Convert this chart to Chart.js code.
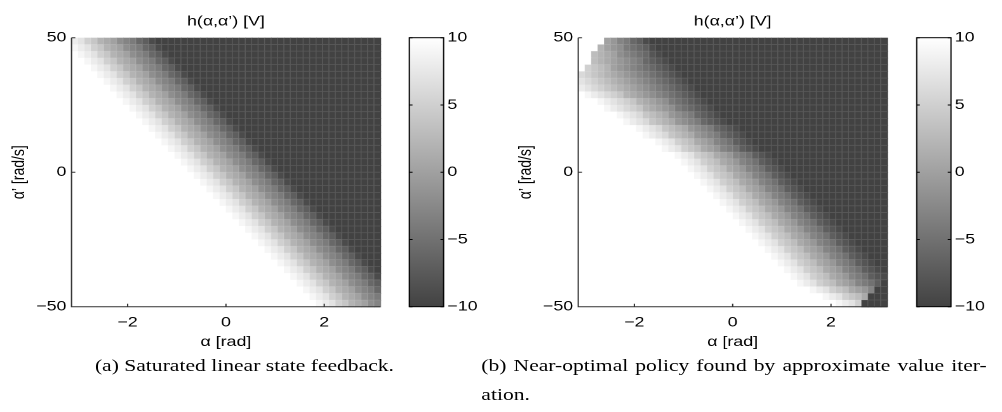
<!DOCTYPE html>
<html>
<head>
<meta charset="utf-8">
<script src="https://cdn.jsdelivr.net/npm/chart.js@4.4.1/dist/chart.umd.min.js"></script>
<style>
  html, body { margin: 0; padding: 0; background: #fff; }
  body { width: 1002px; height: 412px; overflow: hidden; position: relative; }
  /* the reference figure is stretched horizontally, so the whole page is too */
  #page { position: absolute; left: 0; top: 0; width: 789px; height: 412px; transform: scaleX(1.27); transform-origin: 0 0; }
  canvas { position: absolute; }
  .cap { position: absolute; font-family: "Liberation Serif", "Times New Roman", serif; font-size: 17px; line-height: 29px; color: #000; white-space: nowrap; }
</style>
</head>
<body>
<div id="page">
  <canvas id="heatA" width="305" height="360" style="left:0px;top:0px"></canvas>
  <canvas id="barA" width="80" height="330" style="left:310px;top:0px"></canvas>
  <canvas id="heatB" width="305" height="360" style="left:399px;top:0px"></canvas>
  <canvas id="barB" width="80" height="330" style="left:710px;top:0px"></canvas>
  <div class="cap" style="left:0px;top:351px;width:385px;text-align:center">(a) Saturated linear state feedback.</div>
  <div class="cap" style="left:379px;top:351px;width:398px;white-space:normal;text-align:justify;text-align-last:justify">(b) Near-optimal policy found by approximate value iter-</div>
  <div class="cap" style="left:379px;top:380px">ation.</div>
</div>
<script>
// ------------------------------------------
// data
// ------------------------------------------
const alphaRange = [-Math.PI, Math.PI];   // α [rad]
const omegaRange = [-50, 50];             // α' [rad/s]
const alphaTicks = [-2, 0, 2];
const omegaTicks = [-50, 0, 50];
const hTicks = [-10, -5, 0, 5, 10];
const hRange = [-10, 10];

// one letter per cell, a = -10 V ... k = 0 V ... u = +10 V
// "12u" means twelve cells of u; rows go from α' = 50 (top) down to -50
const levelKeys = "abcdefghijklmnopqrstu";

// (a) saturated linear state feedback
const rowsA = [
  "srpomlkihgedb35a",
  "tsrpomlkihgedb34a",
  "utsrpomlkihgedb33a",
  "2utsrpomlkihgedb32a",
  "3utsrpomlkihgedb31a",
  "4utsrpomlkihgedb30a",
  "5utsrpomlkihgedb29a",
  "6utsrpomlkihgedb28a",
  "7utsrpomlkihgedb27a",
  "8utsrpomlkihgedb26a",
  "9utsrpomlkihgedb25a",
  "10utsrpomlkihgedb24a",
  "11utsrpomlkihgedb23a",
  "12utsrpomlkihgedb22a",
  "13utsrpomlkihgedb21a",
  "14utsrpomlkihgedb20a",
  "15utsrpomlkihgedb19a",
  "16utsrpomlkihgedb18a",
  "17utsrpomlkihgedb17a",
  "18utsrpomlkihgedb16a",
  "19utsrpomlkihgedb15a",
  "20utsrpomlkihgedb14a",
  "21utsrpomlkihgedb13a",
  "22utsrpomlkihgedb12a",
  "23utsrpomlkihgedb11a",
  "24utsrpomlkihgedb10a",
  "25utsrpomlkihgedb9a",
  "26utsrpomlkihgedb8a",
  "27utsrpomlkihgedb7a",
  "28utsrpomlkihgedb6a",
  "29utsrpomlkihgedb5a",
  "30utsrpomlkihgedb4a",
  "31utsrpomlkihgedb3a",
  "32utsrpomlkihgedb2a",
  "33utsrpomlkihgedba",
  "34utsrpomlkihgedb",
  "35utsrpomlkihged",
  "36utsrpomlkihge",
  "37utsrpomlkihg",
  "38utsrpomlkih"
];

// (b) near-optimal policy from approximate value iteration
const rowsB = [
  "4ukjhgedb37a",
  "3umkjigfedb36a",
  "2unmlkihgfecb35a",
  "2unmlkjihgedcb34a",
  "uponmkjihgfedcb33a",
  "qponmlkjihgfedcb32a",
  "rqponmlkjihgfedcb31a",
  "srqponmlkjihgfedcb30a",
  "utsrqpomlkjihgfedcb29a",
  "3utsrqpomlkjigfedcb28a",
  "4utsrqpomlkjigfedcb27a",
  "6utsrqonmljihgedcb26a",
  "7utsrqonmljihgedcb25a",
  "9utsrqonmljihgedcb23a",
  "10utsrqonmljihgedcb22a",
  "12utsrponlkjhgfdcb21a",
  "13utsrponlkjhgfdcb20a",
  "15utsrponlkjhgfdcb18a",
  "16utsrponlkjhgfdcb17a",
  "17utsrponlkjhgfdcb16a",
  "18utsrponlkjhgfdcb15a",
  "19utsrponlkjhgfdcb14a",
  "20utsrponlkjhgfdcb13a",
  "21utsrponlkjhgfdcb12a",
  "22utsrponlkjhgfdcb11a",
  "23utsrponlkjhgfdcb10a",
  "24utsrponlkjhgfdcb9a",
  "25utsrponlkjhgfdcb8a",
  "26utsrponlkjhgfdcb7a",
  "27utsrponlkjhgfdcb6a",
  "28utsrponlkjhgfdcb5a",
  "29utsrponlkjhgfdcb4a",
  "30utsrponlkjhgfdcb3a",
  "31utsrponlkjhgfdcb2a",
  "32utsrponlkjhgfdcba",
  "33utsrponlkjhgfdcb",
  "34utsrponlkjhgfda",
  "36utsrponlkjh2a",
  "38utsrponl3a",
  "40utsrp4a"
];

// ------------------------------------------
// helpers
// ------------------------------------------
const FONT = "'Liberation Sans', Arial, Helvetica, sans-serif";
const DARK = 66; // grey level of -10 V

function decodeRows(rows) {
  return rows.map(r => {
    const out = [];
    r.replace(/(\d*)([a-u])/g, (m, n, c) => {
      const cnt = n ? parseInt(n, 10) : 1;
      for (let k = 0; k < cnt; k++) out.push(levelKeys.indexOf(c) - 10);
      return m;
    });
    return out;
  });
}

function grey(v) {
  const t = (Math.max(hRange[0], Math.min(hRange[1], v)) - hRange[0]) / (hRange[1] - hRange[0]);
  const g = Math.round(DARK + t * (255 - DARK));
  return `rgb(${g},${g},${g})`;
}

function fmt(v) {
  return v < 0 ? "\u2212" + Math.abs(v) : String(v);
}

function heatPlugin(grid) {
  return {
    id: "heat",
    beforeDatasetsDraw(chart) {
      const { ctx, scales: { x, y } } = chart;
      const ny = grid.length, nx = grid[0].length;
      const dx = (alphaRange[1] - alphaRange[0]) / nx;
      const dy = (omegaRange[1] - omegaRange[0]) / ny;
      ctx.save();
      for (let i = 0; i < ny; i++) {
        const yt = y.getPixelForValue(omegaRange[1] - i * dy);
        const yb = y.getPixelForValue(omegaRange[1] - (i + 1) * dy);
        for (let j = 0; j < nx; j++) {
          const xl = x.getPixelForValue(alphaRange[0] + j * dx);
          const xr = x.getPixelForValue(alphaRange[0] + (j + 1) * dx);
          ctx.fillStyle = grey(grid[i][j]);
          ctx.fillRect(xl, yt, xr - xl + 0.6, yb - yt + 0.6);
        }
      }
      // faint mesh, the printed figure shows the cell edges
      ctx.strokeStyle = "rgba(255,255,255,0.13)";
      ctx.lineWidth = 0.8;
      ctx.beginPath();
      for (let i = 1; i < ny; i++) {
        const py = y.getPixelForValue(omegaRange[1] - i * dy);
        ctx.moveTo(chart.chartArea.left, py); ctx.lineTo(chart.chartArea.right, py);
      }
      for (let j = 1; j < nx; j++) {
        const px = x.getPixelForValue(alphaRange[0] + j * dx);
        ctx.moveTo(px, chart.chartArea.top); ctx.lineTo(px, chart.chartArea.bottom);
      }
      ctx.stroke();
      ctx.restore();
    },
    afterDraw(chart) {
      const { ctx, chartArea: a, scales: { x, y } } = chart;
      ctx.save();
      ctx.strokeStyle = "#333";
      ctx.lineWidth = 1;
      ctx.beginPath();
      ctx.moveTo(a.left, a.top);
      ctx.lineTo(a.left, a.bottom);
      ctx.lineTo(a.right, a.bottom);
      // small inward tick marks like the original
      alphaTicks.forEach(v => {
        const px = x.getPixelForValue(v);
        ctx.moveTo(px, a.bottom);
        ctx.lineTo(px, a.bottom - 3);
      });
      omegaTicks.forEach(v => {
        const py = y.getPixelForValue(v);
        ctx.moveTo(a.left, py);
        ctx.lineTo(a.left + 3, py);
      });
      ctx.stroke();
      ctx.restore();
    }
  };
}

function makeHeat(id, rows) {
  const grid = decodeRows(rows);
  grid.forEach((r, i) => { if (r.length !== grid[0].length) console.warn(id, "row", i, r.length); });
  return new Chart(document.getElementById(id), {
    type: "scatter",
    data: { datasets: [{ data: [] }] },
    plugins: [heatPlugin(grid)],
    options: {
      responsive: false,
      animation: false,
      devicePixelRatio: 2,
      layout: { padding: { left: 0, right: 5.5, top: 0, bottom: 0 } },
      plugins: {
        legend: { display: false },
        tooltip: { enabled: false },
        title: {
          display: true,
          text: "h(\u03b1,\u03b1\u2019) [V]",
          fullSize: false,
          color: "#000",
          font: { family: FONT, size: 14, weight: "normal" },
          padding: { top: 13.4, bottom: 7.5 }
        }
      },
      scales: {
        x: {
          type: "linear",
          min: alphaRange[0],
          max: alphaRange[1],
          afterBuildTicks: s => { s.ticks = alphaTicks.map(v => ({ value: v })); },
          afterFit: s => { s.height = 53.3; },
          grid: { display: false, drawTicks: false },
          border: { display: false },
          ticks: { color: "#000", padding: 7.6, font: { family: FONT, size: 14 }, callback: v => fmt(v), maxRotation: 0 },
          title: { display: true, text: "\u03b1 [rad]", color: "#000", font: { family: FONT, size: 14 }, padding: { top: 0, bottom: 9.6 } }
        },
        y: {
          type: "linear",
          min: omegaRange[0],
          max: omegaRange[1],
          afterBuildTicks: s => { s.ticks = omegaTicks.map(v => ({ value: v })); },
          afterFit: s => { s.width = 56.3; },
          grid: { display: false, drawTicks: false },
          border: { display: false },
          ticks: { color: "#000", padding: 4, font: { family: FONT, size: 14 }, callback: v => fmt(v) },
          title: { display: true, text: "\u03b1\u2019 [rad/s]", color: "#000", font: { family: FONT, size: 14 }, padding: { top: 6.6, bottom: 0 } }
        }
      }
    }
  });
}

const barBox = {
  id: "barBox",
  afterDraw(chart) {
    const { ctx, chartArea: a, scales: { y } } = chart;
    ctx.save();
    ctx.strokeStyle = "#000";
    ctx.lineWidth = 1;
    ctx.strokeRect(a.left, a.top, a.right - a.left, a.bottom - a.top);
    ctx.beginPath();
    hTicks.forEach(v => {
      const py = y.getPixelForValue(v);
      ctx.moveTo(a.left, py); ctx.lineTo(a.left + 2.5, py);
      ctx.moveTo(a.right, py); ctx.lineTo(a.right - 2.5, py);
    });
    ctx.stroke();
    ctx.restore();
  }
};

function makeBar(id, leftPad) {
  return new Chart(document.getElementById(id), {
    type: "bar",
    data: {
      labels: [""],
      datasets: [{
        data: [hRange],
        barPercentage: 1,
        categoryPercentage: 1,
        borderWidth: 0,
        backgroundColor: c => {
          const a = c.chart.chartArea;
          if (!a) return "#888";
          const g = c.chart.ctx.createLinearGradient(0, a.bottom, 0, a.top);
          g.addColorStop(0, grey(hRange[0]));
          g.addColorStop(1, grey(hRange[1]));
          return g;
        }
      }]
    },
    plugins: [barBox],
    options: {
      responsive: false,
      animation: false,
      devicePixelRatio: 2,
      layout: { padding: { left: leftPad, right: 0, top: 37.7, bottom: 23.3 } },
      plugins: { legend: { display: false }, tooltip: { enabled: false } },
      scales: {
        x: { display: false },
        y: {
          position: "right",
          min: hRange[0],
          max: hRange[1],
          afterBuildTicks: s => { s.ticks = hTicks.map(v => ({ value: v })); },
          afterFit: s => { s.width = 80 - leftPad - 27; },
          grid: { display: false, drawTicks: false },
          border: { display: false },
          ticks: { color: "#000", padding: 3, font: { family: FONT, size: 14 }, callback: v => fmt(v) }
        }
      }
    }
  });
}

makeHeat("heatA", rowsA);
makeBar("barA", 12.3);
makeHeat("heatB", rowsB);
makeBar("barB", 11.8);
</script>
</body>
</html>
